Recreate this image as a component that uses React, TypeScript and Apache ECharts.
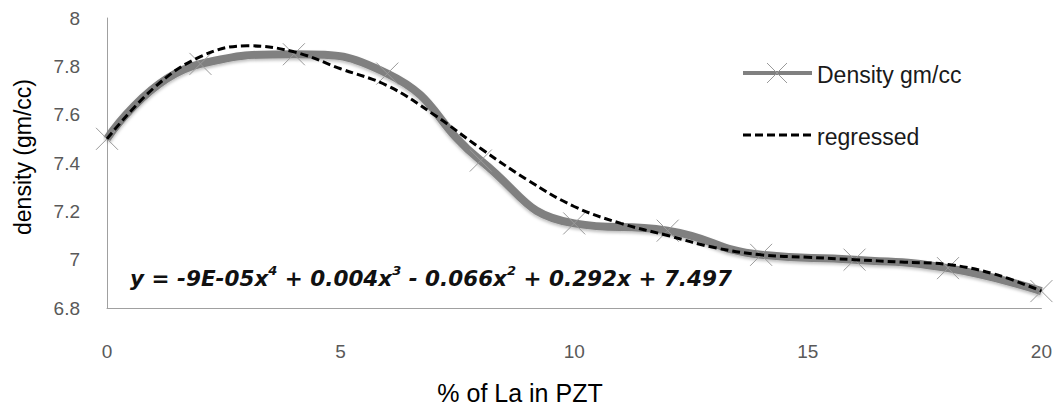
import React, { useEffect, useRef } from "react";
import * as echarts from "echarts";

const laPercent = [0, 2, 4, 6, 8, 10, 12, 14, 16, 18, 20];
const densityValues = [7.5, 7.81, 7.85, 7.77, 7.41, 7.15, 7.12, 7.02, 7.0, 6.965, 6.87];

const regressedX = [0, 1, 2, 3, 4, 5, 6, 7, 8, 9, 10, 11, 12, 13, 14, 15, 16, 17, 18, 19, 20];
const regressedValues = [
  7.5, 7.71, 7.84, 7.885, 7.86, 7.79, 7.72, 7.6, 7.46, 7.33, 7.22, 7.15, 7.1, 7.05, 7.02, 7.01,
  7.0, 6.99, 6.98, 6.94, 6.87,
];

const xTitle = "% of La in PZT";
const yTitle = "density (gm/cc)";
const seriesNames = ["Density gm/cc", "regressed"];

const FONT = "'Liberation Sans', Arial, sans-serif";
const EQ_FONT = "'DejaVu Sans', sans-serif";

export default function App() {
  const ref = useRef<HTMLDivElement>(null);

  useEffect(() => {
    if (!ref.current) return;
    const chart = echarts.init(ref.current, undefined, { renderer: "svg" });

    const eqStyle = { fontSize: 21.5, fontWeight: "bold", fontStyle: "italic", fontFamily: EQ_FONT, fill: "#111", lineHeight: 28 };
    const supStyle = { fontSize: 13, fontWeight: "bold", fontStyle: "italic", fontFamily: EQ_FONT, fill: "#111", verticalAlign: "top", lineHeight: 28 };

    chart.setOption({
      animation: false,
      backgroundColor: "#ffffff",
      grid: { left: 107, right: 12, top: 18, bottom: 101, containLabel: false },
      xAxis: {
        type: "value",
        min: 0,
        max: 20,
        interval: 5,
        axisLine: { show: true, lineStyle: { color: "#a0a0a0", width: 1 } },
        axisTick: { show: false },
        splitLine: { show: false },
        axisLabel: { color: "#595959", fontSize: 19, fontFamily: FONT, margin: 34 },
      },
      yAxis: {
        type: "value",
        min: 6.8,
        max: 8,
        interval: 0.2,
        axisLine: { show: true, lineStyle: { color: "#a0a0a0", width: 1 } },
        axisTick: { show: false },
        splitLine: { show: false },
        axisLabel: {
          color: "#595959",
          fontSize: 19,
          fontFamily: FONT,
          margin: 27,
          formatter: (v: number) => String(Math.round(v * 10) / 10),
        },
      },
      series: [
        {
          name: seriesNames[0],
          type: "line",
          smooth: 0.5,
          data: laPercent.map((x, i) => [x, densityValues[i]]),
          lineStyle: {
            color: "#808080",
            width: 8,
            shadowColor: "rgba(0,0,0,0.25)",
            shadowBlur: 3,
            shadowOffsetY: 2,
          },
          symbol: "path://M0,0L20,20M20,0L0,20",
          symbolSize: 22,
          itemStyle: { color: "rgba(0,0,0,0)", borderColor: "#9a9a9a", borderWidth: 1 },
          z: 2,
        },
        {
          name: seriesNames[1],
          type: "line",
          smooth: 0.4,
          data: regressedX.map((x, i) => [x, regressedValues[i]]),
          showSymbol: false,
          lineStyle: { color: "#000000", width: 3, type: [8, 4] },
          z: 3,
        },
      ],
      graphic: [
        {
          type: "text",
          x: 23,
          y: 157,
          rotation: Math.PI / 2,
          style: {
            text: yTitle,
            fontSize: 23,
            fontFamily: FONT,
            fill: "#000",
            align: "center",
            verticalAlign: "middle",
          },
        },
        {
          type: "text",
          x: 520,
          y: 393,
          style: {
            text: xTitle,
            fontSize: 25,
            fontFamily: FONT,
            fill: "#000",
            align: "center",
            verticalAlign: "middle",
          },
        },
        {
          type: "text",
          x: 130,
          y: 278,
          z: 10,
          style: {
            text:
              "{n|y = -9E-05x}{s|4}{n| + 0.004x}{s|3}{n| - 0.066x}{s|2}{n| + 0.292x + 7.497}",
            verticalAlign: "middle",
            rich: { n: eqStyle, s: supStyle },
          },
        },
        // legend item 1
        {
          type: "line",
          shape: { x1: 743, y1: 73, x2: 812, y2: 73 },
          style: { stroke: "#808080", lineWidth: 4 },
        },
        {
          type: "line",
          shape: { x1: 767, y1: 63, x2: 787, y2: 83 },
          style: { stroke: "#9a9a9a", lineWidth: 1 },
        },
        {
          type: "line",
          shape: { x1: 787, y1: 63, x2: 767, y2: 83 },
          style: { stroke: "#9a9a9a", lineWidth: 1 },
        },
        {
          type: "text",
          x: 817,
          y: 75,
          style: {
            text: seriesNames[0],
            fontSize: 23,
            fontFamily: FONT,
            fill: "#1a1a1a",
            verticalAlign: "middle",
          },
        },
        // legend item 2
        {
          type: "line",
          shape: { x1: 743, y1: 135, x2: 812, y2: 135 },
          style: { stroke: "#000", lineWidth: 3, lineDash: [8, 4] },
        },
        {
          type: "text",
          x: 817,
          y: 137,
          style: {
            text: seriesNames[1],
            fontSize: 23,
            fontFamily: FONT,
            fill: "#1a1a1a",
            verticalAlign: "middle",
          },
        },
      ],
    });

    return () => chart.dispose();
  }, []);

  return <div ref={ref} style={{ width: 1055, height: 409, position: "absolute", left: 0, top: 0 }} />;
}
